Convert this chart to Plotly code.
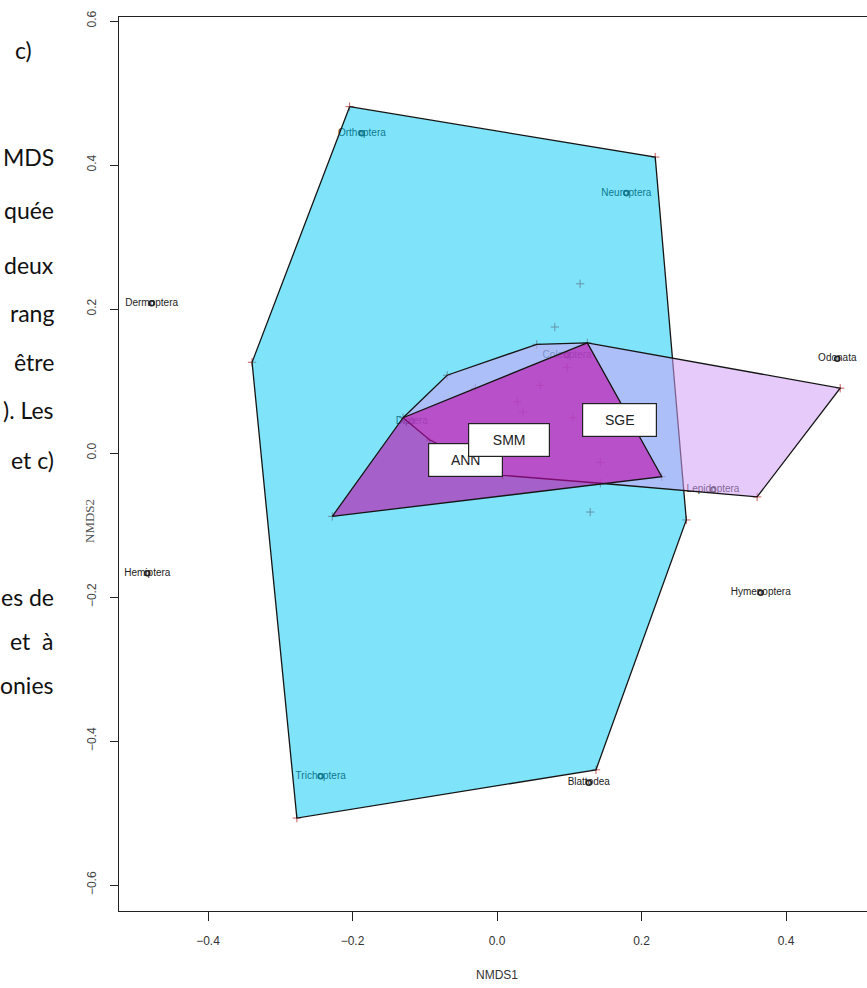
import plotly.graph_objects as go

# ---------------- data (NMDS coordinates) ----------------
species = ["Orthoptera", "Neuroptera", "Dermoptera", "Hemiptera", "Odonata",
           "Hymenoptera", "Trichoptera", "Blattodea", "Lepidoptera", "Coleoptera", "Diptera"]
species_x = [-0.187, 0.179, -0.478, -0.484, 0.471, 0.365, -0.244, 0.127, 0.299, 0.097, -0.118]
species_y = [0.444, 0.361, 0.208, -0.167, 0.131, -0.194, -0.449, -0.458, -0.051, 0.136, 0.044]

sites_x = [-0.204, 0.219, 0.262, 0.137, -0.277, -0.339, 0.115, 0.080, 0.129,
           -0.069, 0.055, 0.475, 0.360, 0.143, 0.008, -0.093, -0.130,
           -0.228, 0.125, 0.228, 0.105, 0.143, 0.028, 0.036, 0.060, 0.097, -0.030]
sites_y = [0.481, 0.411, -0.093, -0.440, -0.507, 0.126, 0.235, 0.175, -0.082,
           0.108, 0.151, 0.090, -0.061, -0.042, -0.031, 0.018, 0.049,
           -0.088, 0.153, -0.033, 0.049, -0.013, 0.071, 0.057, 0.094, 0.119, 0.090]

hull_big_x = [-0.204, 0.219, 0.262, 0.137, -0.277, -0.339]
hull_big_y = [0.481, 0.411, -0.093, -0.440, -0.507, 0.126]

hull_lav_x = [-0.130, -0.069, 0.055, 0.125, 0.475, 0.360, 0.143, 0.008, -0.093]
hull_lav_y = [0.049, 0.108, 0.151, 0.153, 0.090, -0.061, -0.042, -0.031, 0.018]

hull_mag_x = [-0.228, -0.130, 0.125, 0.228]
hull_mag_y = [-0.088, 0.049, 0.153, -0.033]

groups = ["ANN", "SMM", "SGE"]
group_x = [-0.043, 0.017, 0.170]
group_y = [-0.010, 0.018, 0.046]
group_w = [73, 80, 73]

x_ticks = [-0.4, -0.2, 0.0, 0.2, 0.4]
x_ticktext = ["\u22120.4", "\u22120.2", "0.0", "0.2", "0.4"]
y_ticks = [-0.6, -0.4, -0.2, 0.0, 0.2, 0.4, 0.6]
y_ticktext = ["\u22120.6", "\u22120.4", "\u22120.2", "0.0", "0.2", "0.4", "0.6"]

side_text = ["c)", "MDS", "quée", "deux", "rang", "être", "). Les", "et c)", "es de", "et  à", "onies"]
side_px_y = [50, 157, 210, 265, 313, 362, 410, 460, 597, 641, 685]

# ---------------- figure ----------------
W, H = 867, 988
L, R, T, B = 119, 0, 17, 77
PW, PH = W - L - R, H - T - B


def px(xp):
    return (xp - L) / PW


def py(yp):
    return (H - B - yp) / PH


fig = go.Figure()

# species labels (drawn first so the hulls tint them)
fig.add_trace(go.Scatter(
    x=species_x, y=species_y, mode="text", text=species,
    textfont=dict(family="Liberation Sans, Arial", size=10, color="#222"),
    textposition="middle center", hoverinfo="skip", showlegend=False))
fig.add_trace(go.Scatter(
    x=species_x, y=species_y, mode="markers",
    marker=dict(symbol="circle-open", size=5, color="#222", line=dict(width=1.6, color="#222")),
    hoverinfo="skip", showlegend=False))

# sites
fig.add_trace(go.Scatter(
    x=sites_x, y=sites_y, mode="markers",
    marker=dict(symbol="cross-thin", size=6, color="#c85a5a", line=dict(width=1, color="#c85a5a")),
    hoverinfo="skip", showlegend=False))

line_style = dict(color="#151515", width=1.3)
fig.add_trace(go.Scatter(
    x=hull_big_x + hull_big_x[:1], y=hull_big_y + hull_big_y[:1], mode="lines",
    fill="toself", fillcolor="rgba(0,201,245,0.5)", line=line_style,
    hoverinfo="skip", showlegend=False))
fig.add_trace(go.Scatter(
    x=hull_lav_x + hull_lav_x[:1], y=hull_lav_y + hull_lav_y[:1], mode="lines",
    fill="toself", fillcolor="rgba(210,160,246,0.55)", line=line_style,
    hoverinfo="skip", showlegend=False))
fig.add_trace(go.Scatter(
    x=hull_mag_x + hull_mag_x[:1], y=hull_mag_y + hull_mag_y[:1], mode="lines",
    fill="toself", fillcolor="rgba(192,8,170,0.6)", line=line_style,
    hoverinfo="skip", showlegend=False))

annotations = []
for g, gx, gy, gw in zip(groups, group_x, group_y, group_w):
    annotations.append(dict(
        x=gx, y=gy, xref="x", yref="y", text=g, showarrow=False,
        font=dict(family="Liberation Sans, Arial", size=14, color="#222"),
        bgcolor="white", bordercolor="#222", borderwidth=1.2, borderpad=0,
        width=gw, height=32))

for t, yp in zip(side_text, side_px_y):
    if t == "c)":
        annotations.append(dict(x=px(13), y=py(yp), xref="paper", yref="paper", text=t,
                                showarrow=False, xanchor="left", yanchor="middle",
                                font=dict(family="Lato", size=23, color="#111")))
    else:
        annotations.append(dict(x=px(56), y=py(yp), xref="paper", yref="paper", text=t,
                                showarrow=False, xanchor="right", yanchor="middle",
                                font=dict(family="Lato", size=23, color="#111")))

annotations.append(dict(x=px(497), y=py(975), xref="paper", yref="paper", text="NMDS1",
                        showarrow=False, xanchor="center", yanchor="middle",
                        font=dict(family="Liberation Sans, Arial", size=12, color="#333")))
annotations.append(dict(x=px(89), y=py(521), xref="paper", yref="paper", text="NMDS2",
                        showarrow=False, xanchor="center", yanchor="middle", textangle=-90,
                        font=dict(family="Liberation Serif, serif", size=13, color="#555")))

fig.update_layout(
    width=W, height=H, margin=dict(l=L, r=R, t=T, b=B),
    paper_bgcolor="white", plot_bgcolor="white",
    annotations=annotations,
    xaxis=dict(range=[(L - 497) / 722.5, (W - 497) / 722.5], tickvals=x_ticks, ticktext=x_ticktext,
               showgrid=False, zeroline=False, showline=True, mirror=True,
               linecolor="#222", linewidth=1.3, ticks="outside", ticklen=9, tickwidth=1,
               tickcolor="#222", ticklabelstandoff=9,
               tickfont=dict(family="Liberation Sans, Arial", size=12, color="#333")),
    yaxis=dict(range=[(453 - (H - B)) / 720, (453 - T) / 720], tickvals=y_ticks, ticktext=y_ticktext,
               showgrid=False, zeroline=False, showline=True, mirror=False,
               linecolor="#222", linewidth=1.3, ticks="outside", ticklen=8, tickwidth=1,
               tickcolor="#222", tickangle=-90, ticklabelstandoff=9,
               tickfont=dict(family="Liberation Sans, Arial", size=12, color="#444")),
)

fig.write_html(
    "out.html",
    config={"displayModeBar": False},
    post_script="document.body.style.margin='0';document.body.style.overflow='hidden';",
)
